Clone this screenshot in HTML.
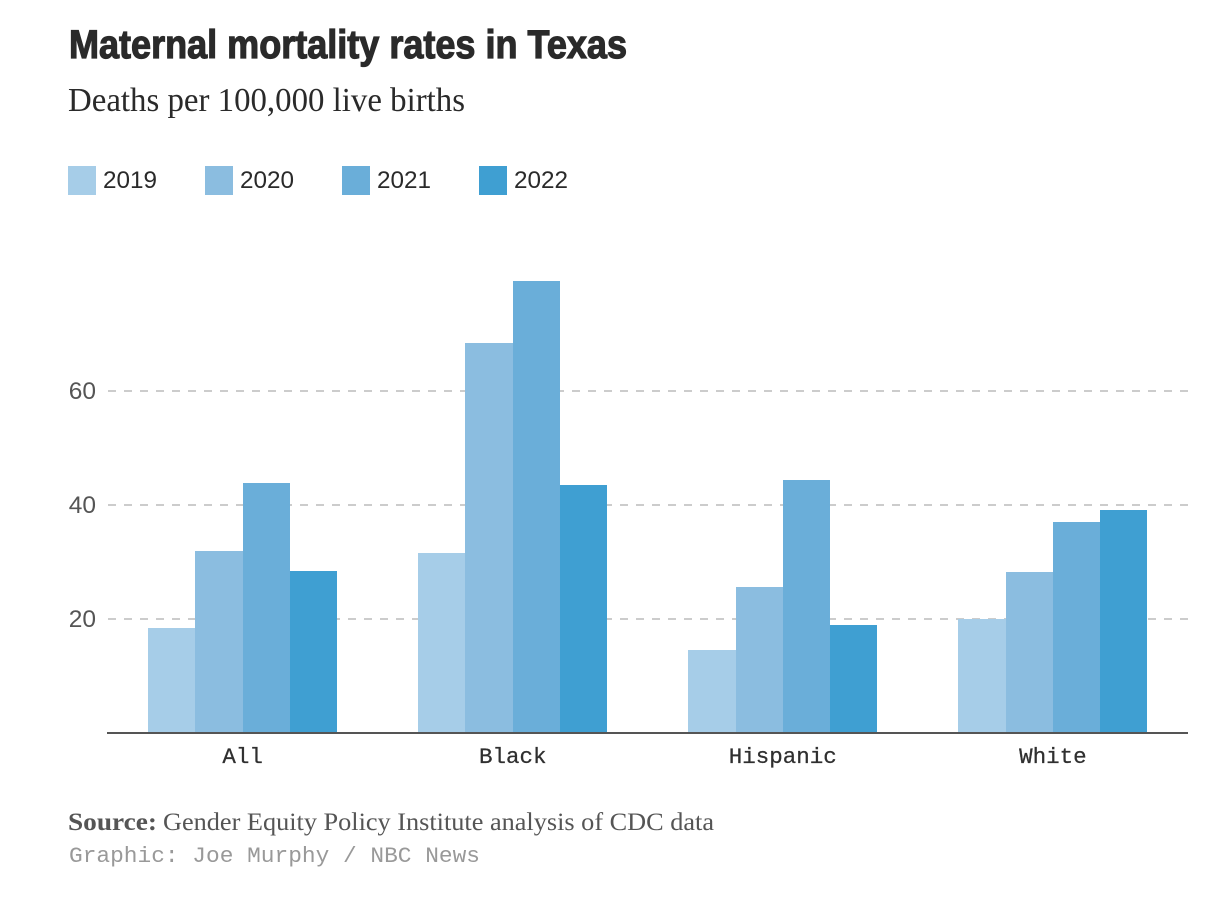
<!DOCTYPE html>
<html lang="en">
<head>
<meta charset="utf-8">
<title>Maternal mortality rates in Texas</title>
<style>
  html, body { margin: 0; padding: 0; background: #fff; }
  svg { display: block; }
  .sans { font-family: "Liberation Sans", sans-serif; }
  .serif { font-family: "Liberation Serif", serif; }
  .mono { font-family: "Liberation Mono", monospace; }
</style>
</head>
<body>
<svg id="chart" xmlns="http://www.w3.org/2000/svg" width="1230" height="908" viewBox="0 0 1230 908">
  <rect width="1230" height="908" fill="#fff"/>
  <text class="sans" x="69" y="58" font-size="40" font-weight="700" fill="#2a2a2a" stroke="#2a2a2a" stroke-width="1.2" textLength="558" lengthAdjust="spacingAndGlyphs">Maternal mortality rates in Texas</text>
  <text class="serif" x="68" y="111" font-size="34" fill="#2a2a2a" textLength="397" lengthAdjust="spacingAndGlyphs">Deaths per 100,000 live births</text>
  <g id="legend"></g>
  <g id="grid"></g>
  <g id="bars"></g>
  <line x1="107" x2="1188" y1="733" y2="733" stroke="#555" stroke-width="2"/>
  <g id="y-labels"></g>
  <g id="x-labels"></g>
  <text class="serif" x="68" y="830" font-size="25" font-weight="700" fill="#555" textLength="89" lengthAdjust="spacingAndGlyphs">Source:</text>
  <text class="serif" x="163" y="830" font-size="25.5" fill="#555" textLength="551" lengthAdjust="spacingAndGlyphs">Gender Equity Policy Institute analysis of CDC data</text>
  <text class="mono" x="69" y="862" font-size="22" fill="#999" textLength="411" lengthAdjust="spacingAndGlyphs">Graphic: Joe Murphy / NBC News</text>
</svg>
<script>
const categories = ['All', 'Black', 'Hispanic', 'White'];
const years = ['2019', '2020', '2021', '2022'];
const colors = ['#a6cde8', '#8bbde0', '#6aaed9', '#3f9fd2'];
const values2019 = [18.4, 31.6, 14.6, 20.0];
const values2020 = [31.9, 68.4, 25.6, 28.2];
const values2021 = [43.9, 79.3, 44.4, 37.0];
const values2022 = [28.4, 43.5, 18.9, 39.1];
const yTicks = [20, 40, 60];

const seriesValues = [values2019, values2020, values2021, values2022];
const NS = 'http://www.w3.org/2000/svg';

function yScale(v) { return 733 - v * 5.7; }
function groupStart(i) { return 148.05 + i * 270.1; }
const barWidth = 47.28;
function barX(i, s) { return Math.round(groupStart(i) + s * barWidth); }
function groupCenter(i) { return groupStart(i) + barWidth * 2; }

function make(tag, attrs, parent, text) {
  const el = document.createElementNS(NS, tag);
  Object.keys(attrs).forEach(function (k) { el.setAttribute(k, attrs[k]); });
  if (text !== undefined) el.textContent = text;
  parent.appendChild(el);
  return el;
}

const legendG = document.getElementById('legend');
years.forEach(function (year, s) {
  const swatchX = 68 + s * 137;
  const swatch = make('rect', { x: swatchX, y: 166, width: 28, height: 29, fill: colors[s] }, legendG);
  
  
  const label = make('text', { x: swatchX + 35, y: 188, 'font-size': 24, fill: '#2a2a2a', class: 'sans', textLength: 54, lengthAdjust: 'spacingAndGlyphs' }, legendG, year);
  
  
});

const gridG = document.getElementById('grid');
const yLabelG = document.getElementById('y-labels');
yTicks.forEach(function (t) {
  const gridline = make('line', { x1: 108, x2: 1188, y1: yScale(t), y2: yScale(t), stroke: '#ccc', 'stroke-width': 2, 'stroke-dasharray': '8 8' }, gridG);
  
  
  const tickLabel = make('text', { x: 96, y: yScale(t) + 8, 'text-anchor': 'end', 'font-size': 24.5, fill: '#555', class: 'sans' }, yLabelG, String(t));
  
  
});

const barsG = document.getElementById('bars');
const xLabelG = document.getElementById('x-labels');
categories.forEach(function (cat, i) {
  seriesValues.forEach(function (series, s) {
    const x0 = barX(i, s);
    const x1 = barX(i, s + 1);
    const top = Math.round(yScale(series[i]));
    const bar = make('rect', { x: x0, y: top, width: x1 - x0, height: 733 - top, fill: colors[s], 'shape-rendering': 'crispEdges' }, barsG);
    
    
  });
  const catLabel = make('text', { x: groupCenter(i), y: 763, 'text-anchor': 'middle', 'font-size': 22.5, fill: '#2f2f2f', stroke: '#2f2f2f', 'stroke-width': 0.25, class: 'mono' }, xLabelG, cat);
  
  
});
</script>
</body>
</html>
